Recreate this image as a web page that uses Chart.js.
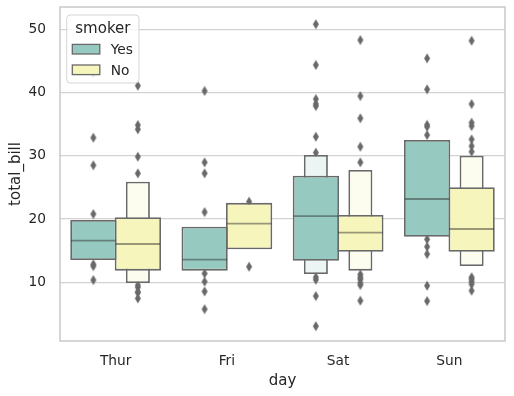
<!DOCTYPE html>
<html><head><meta charset="utf-8">
<script src="https://cdn.jsdelivr.net/npm/chart.js@4"></script>
<style>html,body{margin:0;padding:0;background:#fff}#wrap{width:514px;height:396px;position:relative}</style>
</head><body><div id="wrap"><canvas id="c"></canvas></div>
<script>
// ---- data ----
const categories = ['Thur', 'Fri', 'Sat', 'Sun'];
const hues = ['Yes', 'No'];
const hueTitle = 'smoker';
const xLabel = 'day';
const yLabel = 'total_bill';
const yTicks = [10, 20, 30, 40, 50];

// letter-value boxes: level 1 (quartiles) and level 2 (eighths)
const yesBox   = [[13.53, 19.85], [11.84, 18.79], [13.42, 26.85], [17.21, 32.50]];
const noBox    = [[11.84, 20.28], [15.22, 22.56], [14.84, 20.64], [14.84, 25.02]];
const yesOuter = [null, null, [11.31, 30.13], null];
const noOuter  = [[9.89, 25.90], null, [11.84, 27.76], [12.58, 30.02]];
const yesMedian = [16.58, 13.58, 20.48, 23.17];
const noMedian  = [16.06, 19.27, 17.84, 18.43];

// outliers per day
const yesOutliers = [
  [43.11, 32.86, 28.50, 20.80, 12.85, 12.55, 10.36],
  [40.25, 28.97, 27.23, 21.10, 11.40, 10.10, 8.55, 5.75],
  [50.81, 44.36, 38.98, 38.20, 37.87, 33.02, 30.50, 10.80, 10.40, 7.83, 3.07],
  [45.41, 40.51, 34.90, 34.60, 33.29, 16.80, 15.63, 14.47, 9.46, 7.04]
];
const noOutliers = [
  [41.08, 34.87, 34.20, 29.86, 27.23, 9.55, 9.20, 8.50, 8.35, 7.45],
  [22.75, 12.46],
  [48.31, 39.45, 35.93, 31.44, 28.97, 11.26, 10.80, 10.47, 9.90, 9.57, 7.09],
  [48.20, 38.19, 35.23, 34.71, 32.60, 31.55, 30.65, 10.80, 10.50, 10.10, 9.70, 8.67]
];

// ---- styling ----
const FONT = "'DejaVu Sans', sans-serif";
const TXT = '#262626';
const colMain  = { Yes: '#96cac1', No: '#f5f5bc' };
const colOuter = { Yes: '#ecf5f3', No: '#fdfdef' };
const EDGE = '#696969';
const MED = 'rgba(38,38,38,0.45)';
const LW = 1.8;
const dodge = { Yes: -0.2, No: 0.2 };

function diamondMarker() {
  const c = document.createElement('canvas');
  c.width = 8; c.height = 11;
  const g = c.getContext('2d');
  g.fillStyle = EDGE;
  g.beginPath();
  g.moveTo(4, 0.6); g.lineTo(7, 5.5); g.lineTo(4, 10.4); g.lineTo(1, 5.5);
  g.closePath(); g.fill();
  return c;
}
const DIAMOND = diamondMarker();

// helpers turning the arrays into dodged {x, y} records on the hidden linear axis
function boxPoints(ranges, hue) {
  const pts = [];
  ranges.forEach((r, i) => { if (r) pts.push({ x: i + dodge[hue], y: r }); });
  return pts;
}
function outlierPoints(list, hue) {
  const pts = [];
  list.forEach((vals, i) => vals.forEach(v => pts.push({ x: i + dodge[hue], y: v })));
  return pts;
}
function medianSegments(meds, hue) {
  const pts = [];
  meds.forEach((m, i) => {
    const c = i + dodge[hue];
    pts.push({ x: c - 0.2, y: m }, { x: c + 0.2, y: m }, { x: c + 0.2, y: null });
  });
  return pts;
}

function boxDs(label, ranges, hue, color, pct, order) {
  return {
    type: 'bar', label, data: boxPoints(ranges, hue), xAxisID: 'x2', yAxisID: 'y',
    grouped: false, backgroundColor: color, borderColor: EDGE, borderWidth: LW, borderSkipped: false,
    barPercentage: pct, categoryPercentage: 1, order
  };
}

const datasets = [
  boxDs('Yes', yesBox, 'Yes', colMain.Yes, 1.04, 2),
  boxDs('No', noBox, 'No', colMain.No, 1.04, 2),
  boxDs('Yes outer', yesOuter, 'Yes', colOuter.Yes, 0.54, 3),
  boxDs('No outer', noOuter, 'No', colOuter.No, 0.54, 3),
  { type: 'line', label: 'Yes median', data: medianSegments(yesMedian, 'Yes'), xAxisID: 'x2', yAxisID: 'y',
    borderColor: MED, borderWidth: LW, pointRadius: 0, spanGaps: false, fill: false, order: 1 },
  { type: 'line', label: 'No median', data: medianSegments(noMedian, 'No'), xAxisID: 'x2', yAxisID: 'y',
    borderColor: MED, borderWidth: LW, pointRadius: 0, spanGaps: false, fill: false, order: 1 },
  { type: 'scatter', label: 'Yes outliers', data: outlierPoints(yesOutliers, 'Yes'), xAxisID: 'x2', yAxisID: 'y',
    pointStyle: DIAMOND, pointRadius: 4, order: 4 },
  { type: 'scatter', label: 'No outliers', data: outlierPoints(noOutliers, 'No'), xAxisID: 'x2', yAxisID: 'y',
    pointStyle: DIAMOND, pointRadius: 4, order: 4 }
];

function rrect(ctx, x, y, w, h, r) {
  ctx.beginPath();
  ctx.moveTo(x + r, y);
  ctx.lineTo(x + w - r, y); ctx.arcTo(x + w, y, x + w, y + r, r);
  ctx.lineTo(x + w, y + h - r); ctx.arcTo(x + w, y + h, x + w - r, y + h, r);
  ctx.lineTo(x + r, y + h); ctx.arcTo(x, y + h, x, y + h - r, r);
  ctx.lineTo(x, y + r); ctx.arcTo(x, y, x + r, y, r);
  ctx.closePath();
}

const framePlugin = {
  id: 'frameAndLegend',
  afterDatasetsDraw(chart) {
    const ctx = chart.ctx, a = chart.chartArea;
    ctx.save();
    ctx.strokeStyle = '#cccccc';
    ctx.lineWidth = 1.6;
    ctx.strokeRect(a.left, a.top, a.right - a.left, a.bottom - a.top);
    // legend
    const lx = a.left + 6.7, ly = a.top + 8, lw = 72.3, lh = 68;
    rrect(ctx, lx, ly, lw, lh, 3.5);
    ctx.fillStyle = 'rgba(255,255,255,0.8)';
    ctx.fill();
    ctx.strokeStyle = 'rgba(204,204,204,0.8)';
    ctx.lineWidth = 1;
    ctx.stroke();
    ctx.fillStyle = TXT;
    ctx.font = '15px ' + FONT;
    ctx.textAlign = 'center';
    ctx.textBaseline = 'alphabetic';
    ctx.fillText(hueTitle, lx + lw / 2, ly + 17.9);
    hues.forEach((h, k) => {
      const py = ly + 29.4 + k * 20.6;
      ctx.fillStyle = colMain[h];
      ctx.fillRect(lx + 5.6, py, 27.5, 9.6);
      ctx.strokeStyle = EDGE;
      ctx.lineWidth = 1.3;
      ctx.strokeRect(lx + 5.6, py, 27.5, 9.6);
      ctx.fillStyle = TXT;
      ctx.font = '13.75px ' + FONT;
      ctx.textAlign = 'left';
      ctx.fillText(h, lx + 44.1, py + 9.7);
    });
    ctx.restore();
  }
};

new Chart(document.getElementById('c'), {
  type: 'bar',
  data: { labels: categories, datasets },
  options: {
    responsive: true,
    maintainAspectRatio: false,
    animation: false,
    layout: { padding: { top: 7, right: 9, left: 0, bottom: 0 } },
    plugins: { legend: { display: false }, tooltip: { enabled: false } },
    scales: {
      x: {
        type: 'category', labels: categories, offset: true,
        grid: { display: false }, border: { display: false },
        ticks: { color: TXT, font: { family: FONT, size: 13.75 }, padding: 4.5 },
        title: { display: true, text: xLabel, color: TXT, font: { family: FONT, size: 15 }, padding: { top: 0, bottom: 6 } },
        afterFit(s) { s.height = 55; s.paddingLeft = 0; s.paddingRight = 0; }
      },
      x2: { type: 'linear', min: -0.5, max: 3.5, offset: false, display: false, grid: { offset: false } },
      y: {
        type: 'linear', min: 0.72, max: 53.53, stacked: false,
        grid: { color: '#d2d2d2', lineWidth: 1.2, drawTicks: false },
        border: { display: false },
        ticks: { color: TXT, font: { family: FONT, size: 13.75 }, padding: 14 },
        afterBuildTicks(s) { s.ticks = yTicks.map(v => ({ value: v })); },
        title: { display: true, text: yLabel, color: TXT, font: { family: FONT, size: 15 }, padding: { top: 7, bottom: 0 } },
        afterFit(s) { s.width = 60; s.paddingTop = 0; s.paddingBottom = 0; }
      }
    }
  },
  plugins: [framePlugin]
});
</script></body></html>
